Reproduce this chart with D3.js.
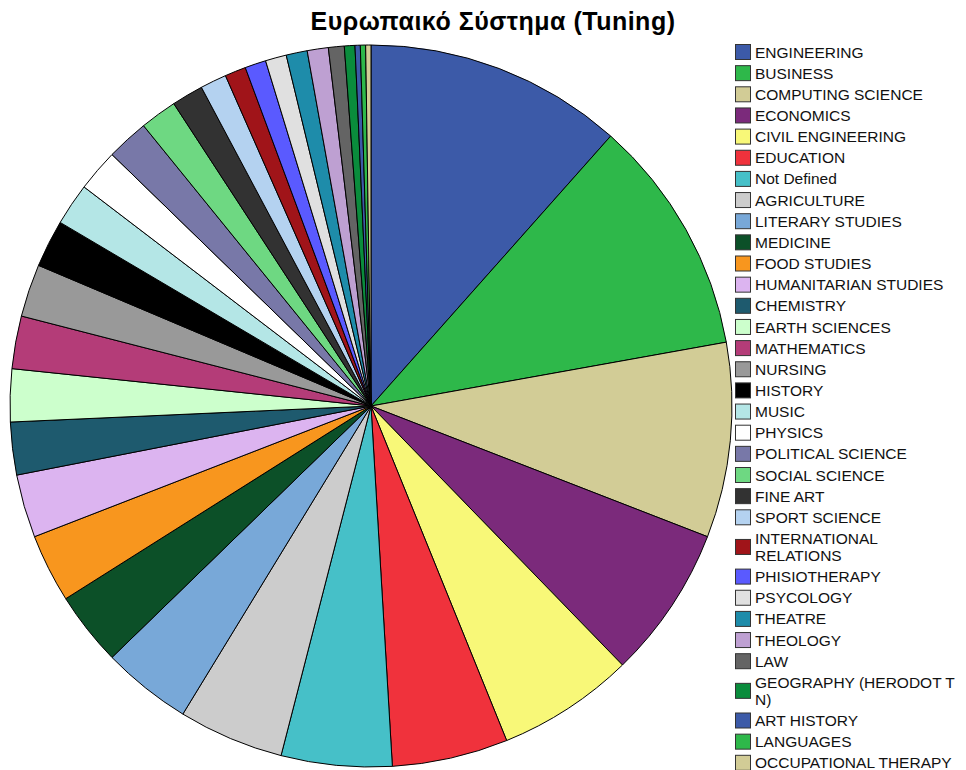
<!DOCTYPE html>
<html><head><meta charset="utf-8">
<script src="https://cdn.jsdelivr.net/npm/d3@7"></script>
<style>body{margin:0;background:#fff}svg{display:block}</style>
</head><body>
<script>
const title = "Ευρωπαικό Σύστημα (Tuning)";
const categories = ["ENGINEERING","BUSINESS","COMPUTING SCIENCE","ECONOMICS","CIVIL ENGINEERING","EDUCATION","Not Defined","AGRICULTURE","LITERARY STUDIES","MEDICINE","FOOD STUDIES","HUMANITARIAN STUDIES","CHEMISTRY","EARTH SCIENCES","MATHEMATICS","NURSING","HISTORY","MUSIC","PHYSICS","POLITICAL SCIENCE","SOCIAL SCIENCE","FINE ART","SPORT SCIENCE","INTERNATIONAL RELATIONS","PHISIOTHERAPY","PSYCOLOGY","THEATRE","THEOLOGY","LAW","GEOGRAPHY (HERODOT T N)","ART HISTORY","LANGUAGES","OCCUPATIONAL THERAPY"];
const legendLines = [["ENGINEERING"],["BUSINESS"],["COMPUTING SCIENCE"],["ECONOMICS"],["CIVIL ENGINEERING"],["EDUCATION"],["Not Defined"],["AGRICULTURE"],["LITERARY STUDIES"],["MEDICINE"],["FOOD STUDIES"],["HUMANITARIAN STUDIES"],["CHEMISTRY"],["EARTH SCIENCES"],["MATHEMATICS"],["NURSING"],["HISTORY"],["MUSIC"],["PHYSICS"],["POLITICAL SCIENCE"],["SOCIAL SCIENCE"],["FINE ART"],["SPORT SCIENCE"],["INTERNATIONAL","RELATIONS"],["PHISIOTHERAPY"],["PSYCOLOGY"],["THEATRE"],["THEOLOGY"],["LAW"],["GEOGRAPHY (HERODOT T","N)"],["ART HISTORY"],["LANGUAGES"],["OCCUPATIONAL THERAPY"]];
const values = [49,45,37,29,26,22,21,20,17,14,13,12,10,10,10,10,9,8,8,8,7,6,5,4,4,4,4,4,3,2,1,1,1];
const colors = ["#3c5aa8","#2eb84a","#d2cc96","#7b2a7b","#f8f878","#f0323c","#46c0c8","#cccccc","#78a8d8","#0c5028","#f8961e","#dcb4f0","#1e5a6e","#ccffcc","#b43c78","#999999","#000000","#b4e6e6","#ffffff","#7878a8","#6ed882","#323232","#b4d2f0","#a01419","#5a5aff","#e0e0e0","#1e8caa","#bea0d2","#646464","#0a8c3c","#3c5aa8","#2eb84a","#d2cc96"];

const W = 966, H = 770;
const svg = d3.select("body").append("svg").attr("width", W).attr("height", H);

svg.append("text").attr("x", 493).attr("y", 29.5).attr("text-anchor", "middle")
  .attr("font-family", "Liberation Sans, Arial, sans-serif").attr("font-weight", "bold")
  .attr("font-size", 25).attr("letter-spacing", 0.5).attr("fill", "#000").text(title);

const cx = 371, cy = 406, r = 361;
const data = categories.map((c, i) => ({name: c, value: values[i], color: colors[i]}));
const pie = d3.pie().value(d => d.value).sort(null);
const arc = d3.arc().innerRadius(0).outerRadius(r);
const g = svg.append("g").attr("transform", `translate(${cx},${cy})`);
g.selectAll("path").data(pie(data)).join("path")
  .attr("d", arc).attr("fill", d => d.data.color)
  .attr("stroke", "#000").attr("stroke-width", 1).attr("stroke-linejoin", "round");

// Legend
const lg = svg.append("g").attr("font-family", "Liberation Sans, Arial, sans-serif").attr("font-size", 15.5);
let y = 52;
legendLines.forEach((lines, i) => {
  const n = lines.length;
  const midY = y + (n - 1) * 8.5;
  lg.append("rect").attr("x", 735.5).attr("y", midY - 7.5).attr("width", 15).attr("height", 15)
    .attr("fill", colors[i]).attr("stroke", "#333").attr("stroke-width", 1);
  lines.forEach((t, k) => {
    lg.append("text").attr("x", 755).attr("y", y + k * 17).attr("dy", "0.36em").attr("fill", "#111").text(t);
  });
  y += 21.15 + (n - 1) * 17;
});
</script>
</body></html>
